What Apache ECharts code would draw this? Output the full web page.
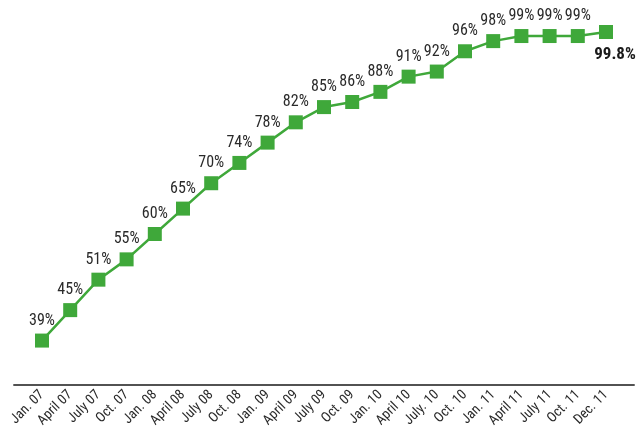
<!DOCTYPE html>
<html><head><meta charset="utf-8">
<script src="https://cdn.jsdelivr.net/npm/echarts@6/dist/echarts.min.js"></script>
<style>html,body{margin:0;padding:0;background:#fff}#c{width:642px;height:430px}</style>
</head><body><div id="c"></div>
<script>
const categories = ['Jan. 07','April 07','July 07','Oct. 07','Jan. 08','April 08','July 08','Oct. 08','Jan. 09','April 09','July 09','Oct. 09','Jan. 10','April 10','July. 10','Oct. 10','Jan. 11','April 11','July 11','Oct. 11','Dec. 11'];
const values = [39,45,51,55,60,65,70,74,78,82,85,86,88,91,92,96,98,99,99,99,99.8];
const labels = ['39%','45%','51%','55%','60%','65%','70%','74%','78%','82%','85%','86%','88%','91%','92%','96%','98%','99%','99%','99%','99.8%'];

const FONT = '"Liberation Sans Narrow", "Roboto Condensed", "Arial Narrow", sans-serif';
const data = values.map((v, i) => {
  const last = i === values.length - 1;
  return {
    value: [i, v],
    label: last ? {position: 'bottom', distance: 7, offset: [9, 0], fontWeight: 'bold', fontSize: 17, color: '#1a1a1a'} : {}
  };
});
const chart = echarts.init(document.getElementById('c'), null, {renderer: 'canvas'});
chart.setOption({
  animation: false,
  grid: {left: 13.8, right: 7.8, top: 0, bottom: 45},
  xAxis: {
    type: 'value', min: -1, max: 21, interval: 1,
    splitLine: {show: false},
    axisLine: {show: true, lineStyle: {color: '#1a1a1a', width: 1.5}},
    axisTick: {show: false},
    axisLabel: {
      rotate: 45, margin: 8, fontSize: 14, color: '#2a2a2a', fontFamily: FONT,
      formatter: v => (categories[v] !== undefined ? categories[v] : '')
    }
  },
  yAxis: {type: 'value', min: 30.3, max: 106.1, show: false, splitLine: {show: false}},
  series: [{
    type: 'line', data: data,
    symbol: 'rect', symbolSize: 14,
    lineStyle: {color: '#3fa83a', width: 2.5},
    itemStyle: {color: '#3fa83a'},
    label: {
      show: true, position: 'top', distance: 5,
      fontSize: 16, color: '#2a2a2a', fontFamily: FONT,
      formatter: p => labels[p.dataIndex]
    }
  }]
});
</script></body></html>
